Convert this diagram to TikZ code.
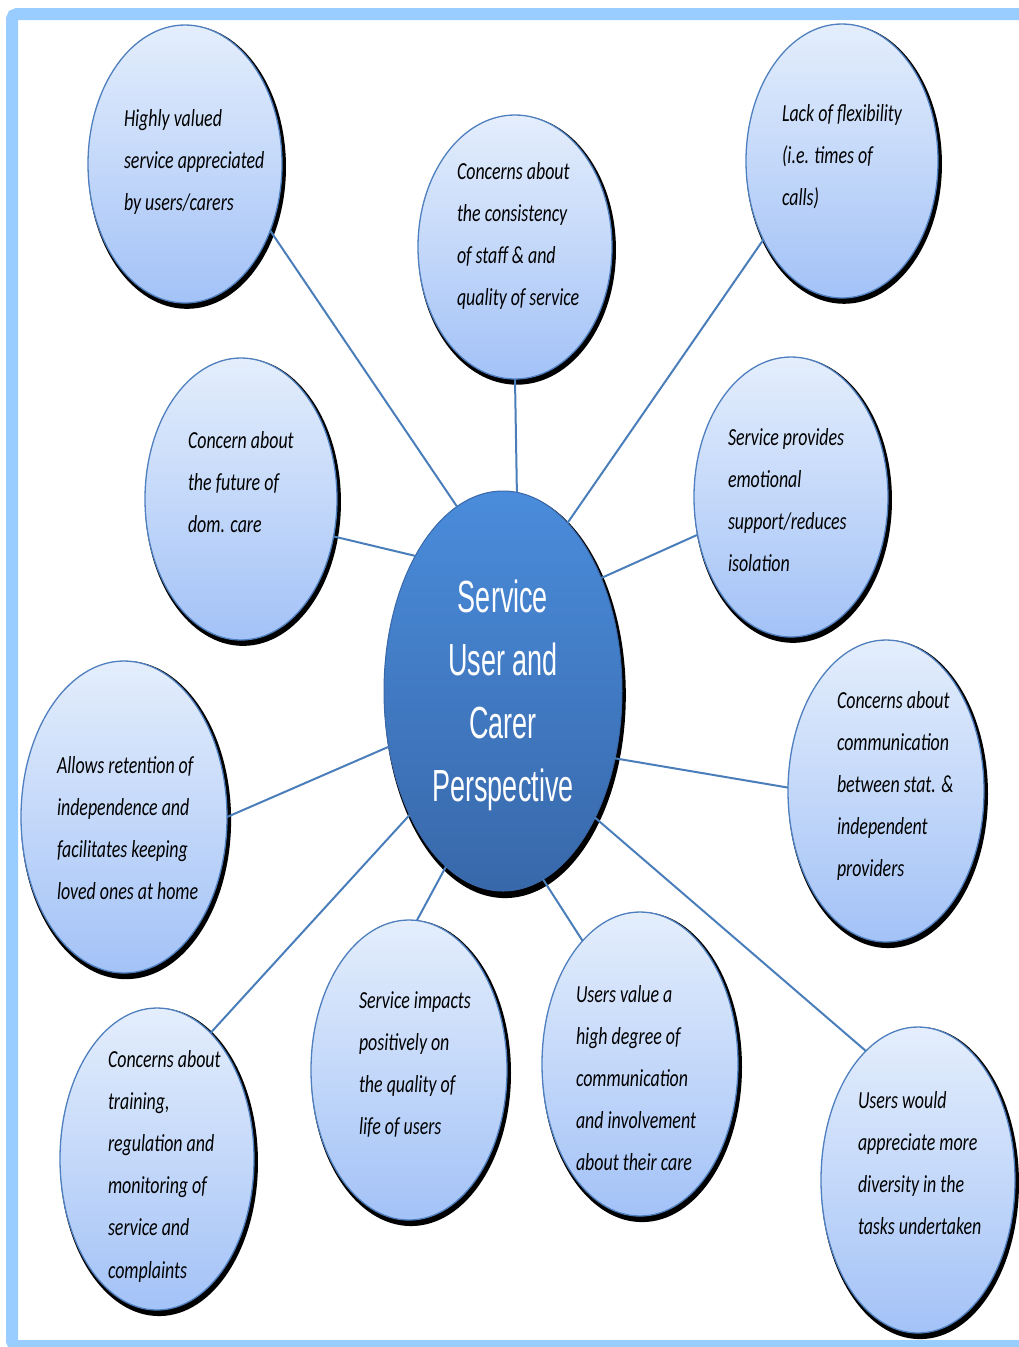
\documentclass[tikz,border=0pt]{standalone}
\usepackage{fontspec}
\usepackage{graphicx}
\usetikzlibrary{shapes.geometric,shadows}
\newfontfamily\lblfont{Carlito}
\newfontfamily\ctrfont{Liberation Sans}
\definecolor{framec}{HTML}{99CCFF}
\definecolor{bubtop}{HTML}{E4EEFC}
\definecolor{bubbot}{HTML}{A3C2F7}
\definecolor{bubline}{HTML}{4F7FBE}
\definecolor{connc}{HTML}{4A7EBB}
\definecolor{ctrtop}{HTML}{4A8CDB}
\definecolor{ctrbot}{HTML}{3868AA}
\newcommand{\bubtext}[1]{\scalebox{0.73}[1]{\begin{tabular}[t]{@{}l@{}}#1\end{tabular}}}
\newcommand{\ctrtext}[1]{\scalebox{0.6}[1]{\begin{tabular}[t]{@{}c@{}}#1\end{tabular}}}
\tikzset{
  bub/.style 2 args={ellipse, inner sep=0pt, outer sep=0pt,
    minimum width=#1, minimum height=#2,
    top color=bubtop, bottom color=bubbot, draw=bubline, line width=1.3pt,
    drop shadow={shadow xshift=2pt, shadow yshift=-3pt, fill=black, opacity=1, shadow scale=1.02}},
  ctrbub/.style 2 args={ellipse, inner sep=0pt, outer sep=0pt,
    minimum width=#1, minimum height=#2,
    top color=ctrtop, bottom color=ctrbot, draw=ctrbot, line width=1pt,
    drop shadow={shadow xshift=2pt, shadow yshift=-4pt, fill=black, opacity=1, shadow scale=1.015}},
  btxt/.style={anchor=base west, inner sep=0pt, outer sep=0pt, text=black,
    font=\lblfont\itshape\fontsize{24.5}{42.2}\selectfont},
  ctxt/.style={anchor=base, inner sep=0pt, outer sep=0pt, text=white,
    font=\ctrfont\fontsize{45}{63}\selectfont},
  conn/.style={draw=connc, line width=2pt}
}
\begin{document}
\begin{tikzpicture}[x=1pt,y=1pt]
\useasboundingbox (0,0) rectangle (1019,-1347);
% frame
\draw[framec, line width=12pt, rounded corners=5pt] (12,-14) rectangle (1040,-1346);
% bubbles
\node[bub={194}{278}] (b1) at (185,-164) {};
\node[bub={194}{264}] (b2) at (515,-247) {};
\node[bub={192}{274}] (b3) at (842,-161) {};
\node[bub={192}{282}] (b4) at (241,-499) {};
\node[bub={194}{280}] (b5) at (791,-497) {};
\node[ctrbub={238}{400}] (c) at (503,-691) {};
\node[bub={206}{312}] (b6) at (124,-817) {};
\node[bub={196}{302}] (b7) at (886,-791) {};
\node[bub={194}{302}] (b8) at (157,-1159) {};
\node[bub={196}{300}] (b9) at (409,-1070) {};
\node[bub={196}{304}] (b10) at (640,-1064) {};
\node[bub={194}{306}] (b11) at (918,-1180) {};
% connectors
\draw[conn] (b1.322.4) -- (c.104.9);
\draw[conn] (b2.270) -- (c.86.6);
\draw[conn] (b3.225.4) -- (c.69.4);
\draw[conn] (b4.338.4) -- (c.123.9);
\draw[conn] (b5.202.6) -- (c.49.6);
\draw[conn] (b6.0) -- (c.206);
\draw[conn] (b7.178.8) -- (c.329.2);
\draw[conn] (b8.67) -- (c.233.4);
\draw[conn] (b9.87) -- (c.252.5);
\draw[conn] (b10.115.3) -- (c.282.9);
\draw[conn] (b11.112.8) -- (c.306.2);
% texts
\node[btxt] (t1) at (124,-126) {\bubtext{Highly valued\\service appreciated\\by users/carers}};
\node[btxt] (t2) at (457,-179) {\bubtext{Concerns about\\the consistency\\of staff \& and\\quality of service}};
\node[btxt] (t3) at (782,-121) {\bubtext{Lack of flexibility\\(i.e. times of\\calls)}};
\node[btxt] (t4) at (188,-448) {\bubtext{Concern about\\the future of\\dom. care}};
\node[btxt] (t5) at (728,-445) {\bubtext{Service provides\\emotional\\support/reduces\\isolation}};
\node[btxt] (t6) at (57,-773) {\bubtext{Allows retention of\\independence and\\facilitates keeping\\loved ones at home}};
\node[btxt] (t7) at (837,-708) {\bubtext{Concerns about\\communication\\between stat. \&\\independent\\providers}};
\node[btxt] (t8) at (108,-1067) {\bubtext{Concerns about\\training,\\regulation and\\monitoring of\\service and\\complaints}};
\node[btxt] (t9) at (359,-1008) {\bubtext{Service impacts\\positively on\\the quality of\\life of users}};
\node[btxt] (t10) at (576,-1002) {\bubtext{Users value a\\high degree of\\communication\\and involvement\\about their care}};
\node[btxt] (t11) at (858,-1108) {\bubtext{Users would\\appreciate more\\diversity in the\\tasks undertaken}};
\node[ctxt] (tc) at (503,-612) {\ctrtext{Service\\User and\\Carer\\Perspective}};
\end{tikzpicture}
\end{document}
